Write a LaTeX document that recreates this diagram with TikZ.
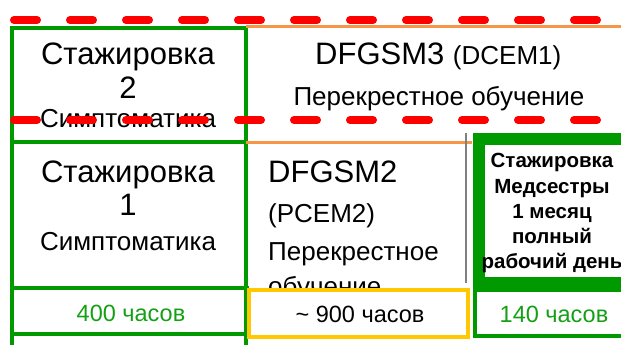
\documentclass[tikz,border=0pt]{standalone}
\usepackage{fontspec}
\setmainfont{Liberation Sans}
\definecolor{GR}{RGB}{0,153,0}
\definecolor{GT}{RGB}{20,160,20}
\definecolor{OR}{RGB}{247,150,70}
\definecolor{YE}{RGB}{255,200,0}
\tikzset{
    BG/.style ={draw=GR, line width=3.5pt},
    BY/.style ={draw=YE, line width=4pt, fill=white},
    OL/.style ={draw=OR, line width=3pt},
    RD/.style ={draw=red, line width=8pt, line cap=round, dash pattern=on 23pt off 33pt},
    T1/.style ={inner sep=0pt, anchor=base, font=\fontsize{31}{37}\selectfont},
    T2/.style ={inner sep=0pt, anchor=base, font=\fontsize{26}{31}\selectfont},
    TL/.style ={inner sep=0pt, anchor=base west, font=\fontsize{26}{31}\selectfont},
    TB/.style ={inner sep=0pt, anchor=base, font=\fontsize{20.5}{25}\selectfont\bfseries},
    TH/.style ={inner sep=0pt, anchor=base, font=\fontsize{23.5}{28}\selectfont}}

\begin{document}
\begin{tikzpicture}[x=1pt,y=-1pt]
        \useasboundingbox (0,0) rectangle (621,345);
        % boxes
        \draw[BG] (12,28) rectangle (246,142);
        \draw[BG] (12,142) rectangle (246,370);
        \draw[OL] (246,27) -- (640,27);
        \draw[OL] (246,142) -- (472,142);
        \draw[gray, line width=1.5pt] (466,133) -- (466,283);
        \draw[GR, line width=12pt] (479,138.5) rectangle (650,282.5);
        % texts
        \node[T1] (st2) at (128,65) {Стажировка};
        \node[T1] (n2) at (128,99) {2};
        \node[T2] (sy2) at (128,127) {Симптоматика};
        \node[T1, anchor=base west] (d3) at (315,65) {DFGSM3 {\fontsize{26}{31}\selectfont(DCEM1)}};
        \node[T2] (po3) at (439,105) {Перекрестное обучение};
        \node[T1] (st1) at (128,182) {Стажировка};
        \node[T1] (n1) at (128,215) {1};
        \node[T2] (sy1) at (128,250) {Симптоматика};
        \node[T1, anchor=base west] (d2) at (268,182) {DFGSM2};
        \node[TL] (pc2) at (268,222) {(PCEM2)};
        \node[TL] (pe2) at (268,260) {Перекрестное};
        \node[TL] (ob2) at (268,295) {обучение};
        \node[TB] (ms1) at (552,167) {Стажировка};
        \node[TB] (ms2) at (552,193) {Медсестры};
        \node[TB] (ms3) at (552,218) {1 месяц};
        \node[TB] (ms4) at (552,243) {полный};
        \node[TB] (ms5) at (552,268) {рабочий день};
        % hours
        \draw[BG] (12,288) rectangle (247,334);
        \draw[BY] (249,290) rectangle (468,337);
        \draw[BG, line width=4pt, fill=white] (475,290) rectangle (650,336);
        \node[TH, text=GT] (h1) at (131,321) {400 часов};
        \node[TH] (h2) at (360,322) {\textasciitilde{} 900 часов};
        \node[TH, text=GT] (h3) at (554,322) {140 часов};
        % red dashed
        \draw[RD] (14,20) -- (660,20);
        \draw[RD] (14,120) -- (660,120);
    \end{tikzpicture}
\end{document}
